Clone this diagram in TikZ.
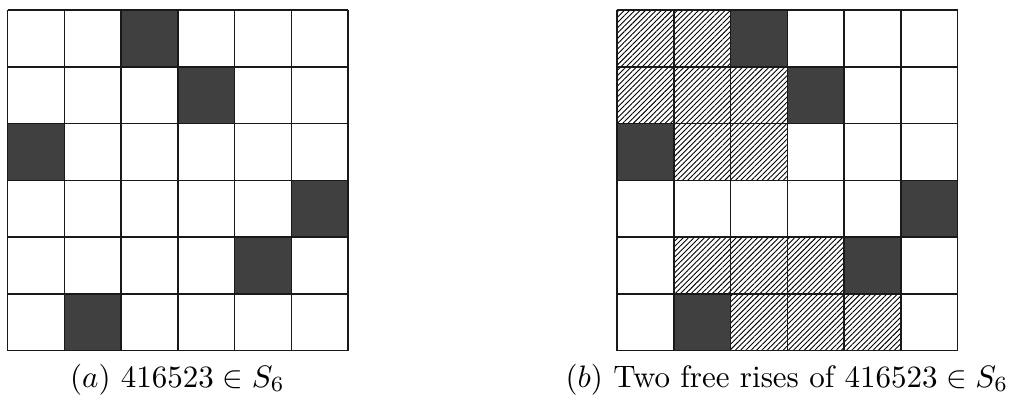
\documentclass[tikz,border=0pt]{standalone}
\usepackage{graphicx}
\usetikzlibrary{patterns.meta}
\definecolor{darkcell}{HTML}{404040}
\tikzset{
  cellline/.style={draw=black!90, line width=1.5pt},
  darkbox/.style={fill=darkcell},
  hatchbox/.style={pattern={Lines[angle=45,distance=3.75pt,line width=0.9pt]}, pattern color=black},
  caption/.style={anchor=base, inner sep=0pt}
}
\newcommand{\myscaledcaption}[1]{\scalebox{3.1}{#1}}
\begin{document}
\begin{tikzpicture}[x=1pt,y=-1pt]
\useasboundingbox (0,0) rectangle (1011,396);
\def\c{56.75}
% grid (a)
\begin{scope}[shift={(7.5,10)}]
  \foreach \col/\row in {3/1,4/2,1/3,6/4,5/5,2/6}
    \fill[darkbox] ({(\col-1)*\c},{(\row-1)*\c}) rectangle ++(\c,\c);
  \foreach \i in {0,...,6} {
    \draw[cellline] ({\i*\c},0) -- ({\i*\c},{6*\c});
    \draw[cellline] (0,{\i*\c}) -- ({6*\c},{\i*\c});
  }
\end{scope}
% grid (b)
\begin{scope}[shift={(617,10)}]
  \foreach \col/\row in {1/1,2/1,1/2,2/2,3/2,2/3,3/3,2/5,3/5,4/5,3/6,4/6,5/6}
    \fill[hatchbox] ({(\col-1)*\c},{(\row-1)*\c}) rectangle ++(\c,\c);
  \foreach \col/\row in {3/1,4/2,1/3,6/4,5/5,2/6}
    \fill[darkbox] ({(\col-1)*\c},{(\row-1)*\c}) rectangle ++(\c,\c);
  \foreach \i in {0,...,6} {
    \draw[cellline] ({\i*\c},0) -- ({\i*\c},{6*\c});
    \draw[cellline] (0,{\i*\c}) -- ({6*\c},{\i*\c});
  }
\end{scope}
\node[caption] (capa) at (177.5,387) {\myscaledcaption{$(a)$ $416523\in S_6$}};
\node[caption] (capb) at (787,387) {\myscaledcaption{$(b)$ Two free rises of $416523\in S_6$}};
\end{tikzpicture}
\end{document}
